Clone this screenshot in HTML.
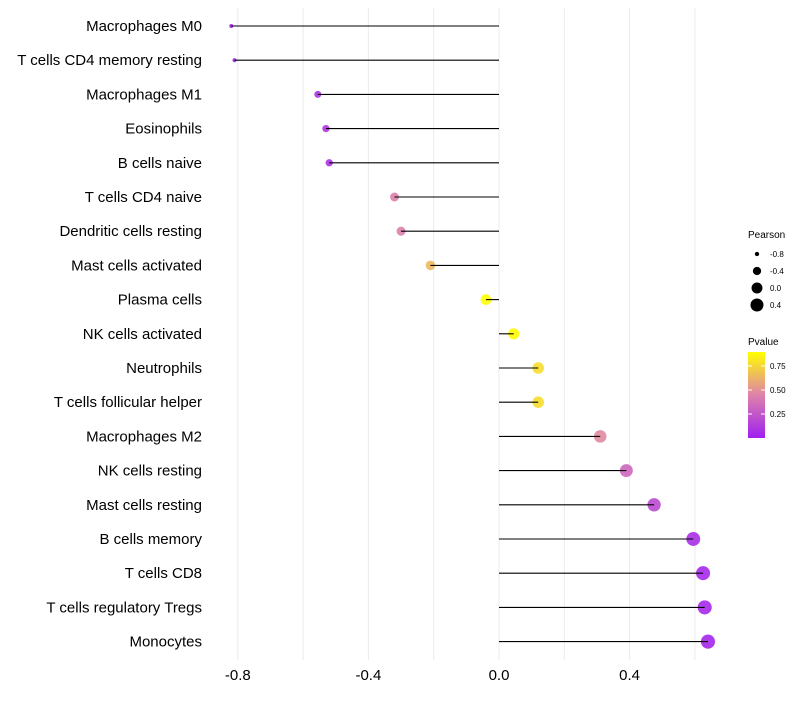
<!DOCTYPE html>
<html><head><meta charset="utf-8"><style>
body{margin:0;background:#fff;}
svg text{font-family:"Liberation Sans",sans-serif;}
</style></head><body>
<svg id="chart" width="800" height="700" xmlns="http://www.w3.org/2000/svg"></svg>
<script>
const categories=["Macrophages M0","T cells CD4 memory resting","Macrophages M1","Eosinophils","B cells naive","T cells CD4 naive","Dendritic cells resting","Mast cells activated","Plasma cells","NK cells activated","Neutrophils","T cells follicular helper","Macrophages M2","NK cells resting","Mast cells resting","B cells memory","T cells CD8","T cells regulatory  Tregs","Monocytes"];
const pearson=[-0.82,-0.81,-0.555,-0.53,-0.52,-0.32,-0.30,-0.21,-0.04,0.045,0.12,0.12,0.31,0.39,0.475,0.595,0.625,0.63,0.64];
const pvalue=[0.03,0.03,0.1,0.1,0.1,0.45,0.45,0.65,0.9,0.88,0.78,0.78,0.48,0.33,0.2,0.08,0.05,0.05,0.04];
const xTicks=[-0.8,-0.4,0.0,0.4];
const xGrid=[-0.8,-0.6,-0.4,-0.2,0,0.2,0.4,0.6];
const sizeLegend=[-0.8,-0.4,0.0,0.4];
const pTicks=[0.25,0.50,0.75];

const svg=document.getElementById('chart');
const NS='http://www.w3.org/2000/svg';
function mk(tag,attrs,parent){const e=document.createElementNS(NS,tag);for(const k in attrs)e.setAttribute(k,attrs[k]);(parent||svg).appendChild(e);return e;}
const xS=v=>499+v*326.5;
const yS=i=>26+i*34.2;
const rS=v=>5.6*Math.sqrt(Math.max(0.01,v+0.95));
function col(p){
  const t=Math.max(0,Math.min(1,(p-0.01)/0.89));
  const stops=[[0,[160,32,240]],[0.5,[222,130,170]],[1,[255,255,0]]];
  let a=stops[0],b=stops[1];if(t>0.5){a=stops[1];b=stops[2];}
  const u=(t-a[0])/(b[0]-a[0]);
  const c=a[1].map((x,i)=>Math.round(x+(b[1][i]-x)*u));
  return `rgb(${c[0]},${c[1]},${c[2]})`;
}
xGrid.forEach(v=>{
  const g=mk('line',{x1:xS(v),x2:xS(v),y1:8,y2:660,stroke:'#ebebeb','stroke-width':1});
  
  
});
xTicks.forEach(v=>{
  const t=mk('text',{x:xS(v),y:680,'text-anchor':'middle','font-size':15,fill:'#000'});
  t.textContent=v.toFixed(1);
  
  
});
categories.forEach((c,i)=>{
  const y=yS(i);
  const lab=mk('text',{x:202,y:y+5,'text-anchor':'end','font-size':15,fill:'#000'});
  lab.textContent=c;
  
  
  const d=mk('circle',{cx:xS(pearson[i]),cy:y,r:rS(pearson[i]),fill:col(pvalue[i]),'fill-opacity':0.9});
  
  
  const s=mk('line',{x1:xS(0),x2:xS(pearson[i]),y1:y,y2:y,stroke:'#000','stroke-width':1.1});
  
  
});
const lt=mk('text',{x:748,y:238,'font-size':10});lt.textContent='Pearson';


sizeLegend.forEach((v,i)=>{
  const y=254+i*17;
  const c=mk('circle',{cx:757,cy:y,r:rS(v),fill:'#000'});
  
  
  const t=mk('text',{x:770,y:y+3,'font-size':8});t.textContent=v.toFixed(1);
  
  
});
const pt=mk('text',{x:748,y:345,'font-size':10});pt.textContent='Pvalue';


const defs=mk('defs',{});
const lg=mk('linearGradient',{id:'pg',x1:0,y1:1,x2:0,y2:0},defs);
[0,0.25,0.5,0.75,1].forEach(o=>mk('stop',{offset:o,'stop-color':col(0.01+o*0.89)},lg));
const bar=mk('rect',{x:748,y:352,width:17,height:86,fill:'url(#pg)'});


const pY=p=>437-(p-0.01)*96;
pTicks.forEach(p=>{
  mk('line',{x1:748,x2:752,y1:pY(p),y2:pY(p),stroke:'#fff'});
  mk('line',{x1:761,x2:765,y1:pY(p),y2:pY(p),stroke:'#fff'});
  const t=mk('text',{x:770,y:pY(p)+3,'font-size':8});t.textContent=p.toFixed(2);
  
  
});
</script>
</body></html>
